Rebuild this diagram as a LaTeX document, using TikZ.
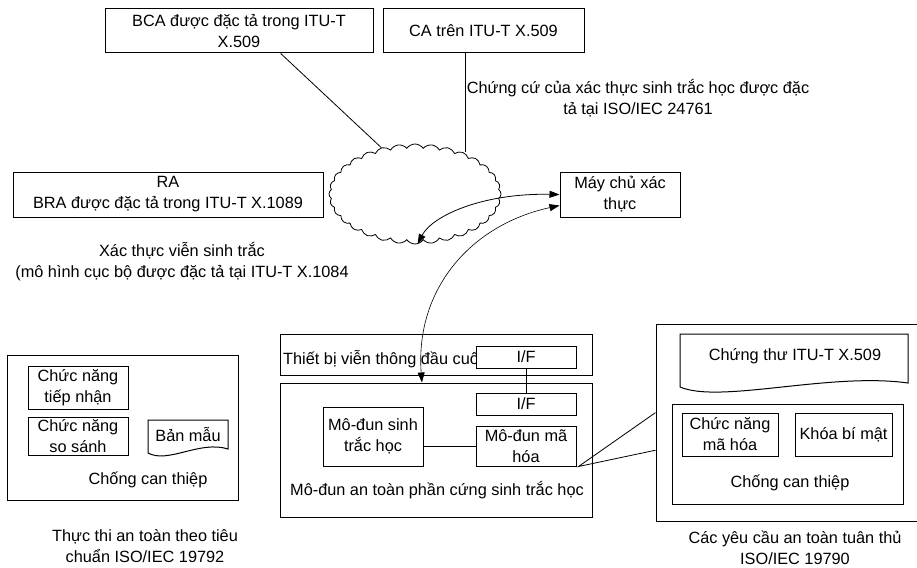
\documentclass[tikz,border=0pt]{standalone}
\usepackage{fontspec}
\setmainfont{Liberation Sans}
\usetikzlibrary{shapes.symbols,arrows.meta,calc}
\begin{document}
\begin{tikzpicture}[x=1pt,y=-1pt,
  every node/.style={font=\fontsize{16.3}{21}\selectfont, align=center},
  box/.style={draw, line width=1pt, fill=white, inner sep=0pt},
  outline/.style={draw, line width=1pt},
  link/.style={line width=0.8pt},
  tip/.tip={Triangle[length=10pt,width=7pt]},
  dlink/.style={line width=0.8pt, tip-tip},
  txt/.style={inner sep=0pt}
]
\useasboundingbox (0,0) rectangle (917,567);
\clip (0,0) rectangle (917,567);

% certificate authorities
\node[box, minimum width=268pt, minimum height=44pt] (bca) at (239,31)
  {BCA được đặc tả trong ITU-T\\X.509};
\node[box, minimum width=201pt, minimum height=44pt] (ca) at (483.5,31)
  {CA trên ITU-T X.509};
\node[txt] (evid) at (638,98)
  {Chứng cứ của xác thực sinh trắc học được đặc\\tả tại ISO/IEC 24761};

% network cloud
\node[cloud, draw, line width=0.8pt, cloud puffs=32, cloud puff arc=110,
      minimum width=172pt, minimum height=100pt, inner sep=0pt] (net) at (415,194) {};

% registration authority and authentication server
\node[box, minimum width=310pt, minimum height=45pt] (ra) at (168,194.5)
  {\fontsize{16.3}{23.5}\selectfont RA\\BRA được đặc tả trong ITU-T X.1089};
\node[box, minimum width=120pt, minimum height=45pt] (srv) at (620,194.5)
  {Máy chủ xác\\thực};
\node[txt] (remote) at (182,262)
  {Xác thực viễn sinh trắc\\(mô hình cục bộ được đặc tả tại ITU-T X.1084};

% links from the authorities to the cloud
\coordinate (bcafoot) at ($(bca.south west)!0.655!(bca.south east)$);
\coordinate (cafoot) at ($(ca.south west)!0.408!(ca.south east)$);
\draw[link] (bcafoot) -- (net.126);
\draw[link] (cafoot) -- (cafoot |- net.41);

% terminal device and hardware security module
\node[box, minimum width=312pt, minimum height=41pt] (term) at (436,354.5) {};
\node[txt, anchor=west] (termtxt) at (283,359) {Thiết bị viễn thông đầu cuối};
\node[box, minimum width=100pt, minimum height=22pt] (if1) at (526,357) {I/F};
\node[box, minimum width=312pt, minimum height=134pt] (hsm) at (436,450) {};
\node[box, minimum width=100pt, minimum height=22pt] (if2) at (526,404) {I/F};
\node[box, minimum width=100pt, minimum height=40pt] (crypt) at (526,446) {Mô-đun mã\\hóa};
\node[box, minimum width=100pt, minimum height=59pt] (bio) at (373,436.5) {Mô-đun sinh\\trắc học};
\node[txt] (hsmtxt) at (437,490) {Mô-đun an toàn phần cứng sinh trắc học};
\draw[link] (if1.south) -- (if2.north);
\draw[link] (bio.east |- crypt.west) -- (crypt.west);

% authentication exchanges
\draw[dlink] (net.-87) .. controls (432,216) and (482,193) .. (srv.west);
\coordinate (hsmtop) at ($(hsm.north west)!0.455!(hsm.north east)$);
\draw[dlink, line width=0.6pt] ($(srv.west)+(0,11)$) .. controls (470,225) and (415,290) .. (hsmtop);

% left: secure execution block
\node[box, minimum width=231pt, minimum height=145pt] (lbox) at (122.5,427.5) {};
\node[box, minimum width=100pt, minimum height=43pt] (acq) at (78,387.5) {Chức năng\\tiếp nhận};
\node[box, minimum width=100pt, minimum height=38pt] (cmp) at (78,436) {Chức năng\\so sánh};
\draw[outline] (148,453) -- (148,420) -- (228,420) -- (228,449)
  .. controls (200,440) and (168,464) .. (148,453) -- cycle;
\node[txt] (tmpl) at (188,435) {Bản mẫu};
\node[txt] (ltamper) at (148,480) {Chống can thiệp};
\node[txt] (lcap) at (145,546) {Thực thi an toàn theo tiêu\\chuẩn ISO/IEC 19792};

% right: security requirements block
\node[box, minimum width=274pt, minimum height=197pt] (rbox) at (793,422.5) {};
\draw[outline] (680,387) -- (680,334) -- (908,334) -- (908,383)
  .. controls (830,372) and (720,404) .. (680,387) -- cycle;
\node[txt] (cert) at (795,356) {Chứng thư ITU-T X.509};
\node[box, minimum width=231pt, minimum height=100pt] (rtamper) at (787.5,454) {};
\node[box, minimum width=96pt, minimum height=43pt] (cfun) at (730,434.5) {Chức năng\\mã hóa};
\node[box, minimum width=97pt, minimum height=43pt] (skey) at (843.5,434.5) {Khóa bí mật};
\node[txt] (rtampertxt) at (790,483) {Chống can thiệp};
\node[txt] (rcap) at (795,548) {Các yêu cầu an toàn tuân thủ\\ISO/IEC 19790};

% callout from the crypto module to the requirements block
\coordinate (callA) at ($(rbox.north west)!0.45!(rbox.south west)$);
\coordinate (callB) at ($(rbox.north west)!0.64!(rbox.south west)$);
\draw[link] (callA) -- ([xshift=2pt]crypt.south east) -- (callB);
\end{tikzpicture}
\end{document}
